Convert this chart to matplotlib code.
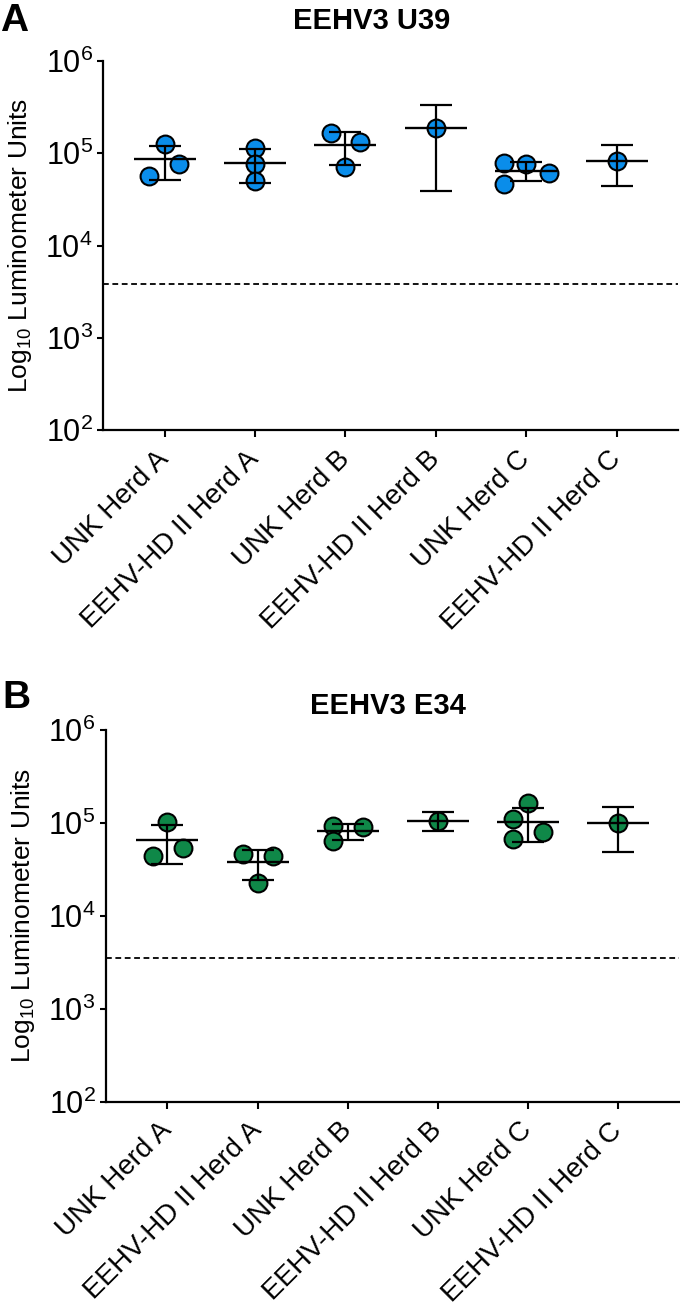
import numpy as np
import matplotlib
matplotlib.use("Agg")
import matplotlib.pyplot as plt
from matplotlib.ticker import LogLocator, NullLocator
from matplotlib.transforms import ScaledTranslation

plt.rcParams["font.family"] = ["Liberation Sans", "DejaVu Sans"]
plt.rcParams["mathtext.fontset"] = "custom"
plt.rcParams["mathtext.rm"] = "Liberation Sans"
plt.rcParams["mathtext.it"] = "Liberation Sans:italic"
plt.rcParams["mathtext.bf"] = "Liberation Sans:bold"

# ── Data ───────────────────────────────────────────────────────────────────────
groups = ["UNK Herd A", "EEHV-HD II Herd A", "UNK Herd B",
          "EEHV-HD II Herd B", "UNK Herd C", "EEHV-HD II Herd C"]

# EEHV3 U39
u39_points = [
    [1.26e5, 7.66e4, 5.68e4],
    [1.13e5, 7.66e4, 5.01e4],
    [1.65e5, 1.34e5, 7.05e4],
    [1.87e5],
    [7.93e4, 7.66e4, 6.07e4, 4.66e4],
    [8.34e4],
]
u39_mean = [8.6e4, 7.93e4, 1.23e5, 1.90e5, 6.44e4, 8.34e4]
u39_upper = [1.20e5, 1.12e5, 1.69e5, 3.36e5, 8.0e4, 1.22e5]
u39_lower = [5.1e4, 4.81e4, 7.48e4, 3.85e4, 5.06e4, 4.47e4]
u39_cutoff = 3830

# EEHV3 E34
e34_points = [
    [1.02e5, 5.43e4, 4.42e4],
    [4.65e4, 4.46e4, 2.24e4],
    [9.35e4, 8.98e4, 6.40e4],
    [1.06e5],
    [1.63e5, 1.10e5, 8.0e4, 6.73e4],
    [9.9e4],
]
e34_mean = [6.56e4, 3.78e4, 8.2e4, 1.06e5, 1.03e5, 9.9e4]
e34_upper = [9.6e4, 5.13e4, 9.84e4, 1.30e5, 1.46e5, 1.49e5]
e34_lower = [3.62e4, 2.44e4, 6.56e4, 8.2e4, 6.2e4, 4.92e4]
e34_cutoff = 3490

# horizontal scatter of the dots inside each group (layout only)
u39_jitter = [[0, 0.16, -0.17], [0, 0, 0], [-0.16, 0.16, 0], [0],
              [-0.25, 0, 0.25, -0.25], [0]]
e34_jitter = [[0, 0.17, -0.16], [-0.165, 0.17, 0], [-0.165, 0.17, -0.165], [0],
              [0, -0.165, 0.165, -0.165], [0]]

BLUE = "#0A8DEA"
GREEN = "#0F8848"


def draw_panel(ax, points, jitter, mean, upper, lower, cutoff, color):
    x = np.arange(len(groups))
    for i, (pts, jit) in enumerate(zip(points, jitter)):
        ax.scatter(np.full(len(pts), x[i]) + np.array(jit), pts, s=165,
                   color=color, edgecolor="black", linewidth=1.5, zorder=2)
    mean = np.array(mean)
    yerr = [mean - np.array(lower), np.array(upper) - mean]
    ax.errorbar(x, mean, yerr=yerr, fmt="none", ecolor="black",
                elinewidth=1.6, capsize=11.5, capthick=1.6, zorder=3)
    ax.plot(x, mean, ls="none", marker="_", markersize=44, mew=1.7,
            color="black", zorder=3)
    ax.axhline(cutoff, color="black", lw=1.3, ls=(0, (3.2, 2.0)), zorder=1)

    ax.set_yscale("log")
    ax.set_ylim(1e2, 1e6)
    ax.set_xlim(-0.68, 5.68)
    ax.yaxis.set_major_locator(LogLocator(base=10, numticks=10))
    ax.yaxis.set_minor_locator(NullLocator())
    ax.set_xticks(x)
    ax.set_xticklabels(groups, rotation=45, ha="right", va="center",
                       rotation_mode="anchor", fontsize=20)
    # nudge rotated labels so their ends sit just right of the ticks
    shift = ScaledTranslation(0.13, 0, fig.dpi_scale_trans)
    for lab in ax.get_xticklabels():
        lab.set_transform(lab.get_transform() + shift)
    ax.tick_params(axis="y", labelsize=22, length=4.5, width=1.5,
                   direction="out", pad=3)
    ax.tick_params(axis="x", length=5, width=1.5, direction="out", pad=13)
    ax.spines["top"].set_visible(False)
    ax.spines["right"].set_visible(False)
    ax.spines["left"].set_linewidth(1.6)
    ax.spines["bottom"].set_linewidth(1.6)
    ax.set_ylabel("Log$_{10}$ Luminometer Units", fontsize=19, labelpad=8)


fig = plt.figure(figsize=(6.8, 13.09), dpi=100)

axA = fig.add_axes([0.152, 0.6715, 0.845, 0.2819])
draw_panel(axA, u39_points, u39_jitter, u39_mean, u39_upper, u39_lower,
           u39_cutoff, BLUE)

axB = fig.add_axes([0.156, 0.1584, 0.843, 0.2839])
draw_panel(axB, e34_points, e34_jitter, e34_mean, e34_upper, e34_lower,
           e34_cutoff, GREEN)

fig.text(372 / 680, 1 - 21 / 1309, "EEHV3 U39", fontsize=21, fontweight="bold",
         ha="center", va="center")
fig.text(388 / 680, 1 - 706 / 1309, "EEHV3 E34", fontsize=21, fontweight="bold",
         ha="center", va="center")
fig.text(0.0, 1 - 21 / 1309, "A", fontsize=28, fontweight="bold",
         ha="left", va="center")
fig.text(0.004, 1 - 698 / 1309, "B", fontsize=28, fontweight="bold",
         ha="left", va="center")

fig.savefig("out.png", dpi=100, facecolor="white")
